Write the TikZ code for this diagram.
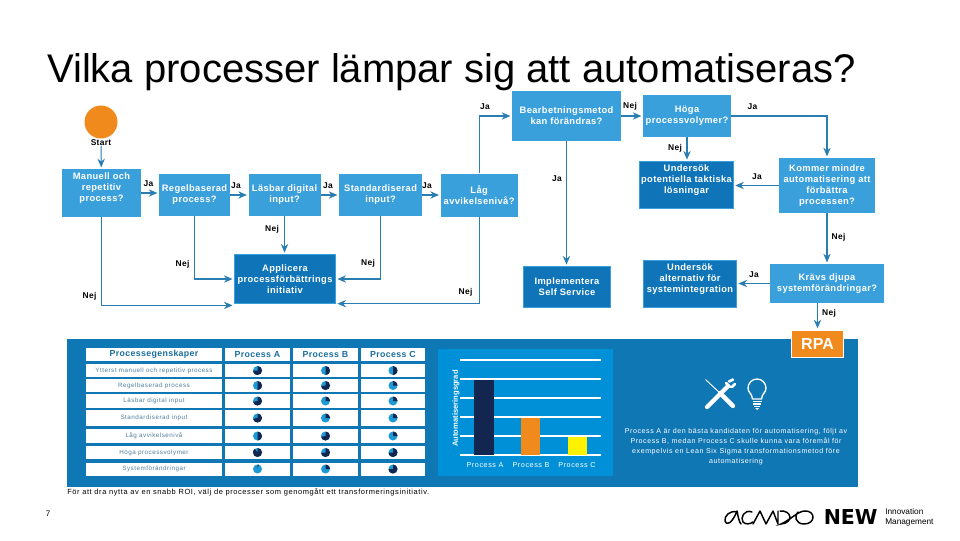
\documentclass[tikz,border=0pt]{standalone}
\usepackage{fontspec}
\usepackage{xcolor}
\usepackage{tikz}
\usetikzlibrary{arrows.meta,positioning}
\setmainfont{Liberation Sans}
\newfontfamily\widefont[LetterSpace=4]{Liberation Sans}
\newfontfamily\smallfont[LetterSpace=8]{Liberation Sans}
\newfontfamily\logofont{DejaVu Sans}
\definecolor{boxlight}{HTML}{3AA0DC}
\definecolor{boxdark}{HTML}{0F75B8}
\definecolor{bandblue}{HTML}{1077B5}
\definecolor{panelblue}{HTML}{0090D8}
\definecolor{linkblue}{HTML}{2A7DB0}
\definecolor{ballblue}{HTML}{1C9AD6}
\definecolor{ballnavy}{HTML}{12264F}
\definecolor{rpaorange}{HTML}{F08A1D}
\definecolor{headblue}{HTML}{1B6E9F}
\definecolor{rowgrey}{HTML}{4F7F9F}
\newcommand{\harvey}[3]{%
  \fill[ballblue] (#1,#2) circle (4.5);
  \fill[ballnavy] (#1,#2) -- ++(-90:4.5) arc[start angle=-90, delta angle=#3*3.6, radius=4.5] -- cycle;
}

\begin{document}
\begin{tikzpicture}[
  x=0.75pt, y=-0.75pt,
  question/.style={fill=boxlight, inner sep=0pt, align=center, text=white, font=\widefont\bfseries\fontsize{7}{8.3}\selectfont},
  action/.style={question, fill=boxdark, draw=boxlight, line width=0.6pt},
  arr/.style={-{Stealth[length=6.5pt, width=5.5pt]}, line width=0.8pt, linkblue, shorten >=1pt},
  lbl/.style={font=\widefont\bfseries\fontsize{6.3}{7}\selectfont, inner sep=0pt},
  cell/.style={fill=white, inner sep=0pt, align=center, text=rowgrey, font=\smallfont\fontsize{4.7}{5.5}\selectfont},
  headcell/.style={cell, text=headblue, font=\widefont\bfseries\fontsize{6.6}{7}\selectfont},
  barlabel/.style={inner sep=0pt, text=white, font=\smallfont\fontsize{5.4}{6}\selectfont},
]
  \useasboundingbox (0,0) rectangle (960,540);
  \fill[white] (0,0) rectangle (960,540);

  \node[inner sep=0pt, font=\fontsize{30}{34}\selectfont] (title) at (451.5,72) {Vilka processer lämpar sig att automatiseras?};

  % flow, left part
  \node[circle, fill=rpaorange, minimum size=24.75pt, inner sep=0pt] (start) at (101,122) {};
  \node[lbl, below=0.5pt of start] (startlbl) {Start};
  \node[question, minimum width=59.25pt, minimum height=36pt] (man) at (101.5,193) {Manuell och\\repetitiv\\process?\\~};
  \node[question, minimum width=53.25pt, minimum height=31.5pt] (regel) at (194.5,195) {Regelbaserad\\process?};
  \node[question, minimum width=54pt, minimum height=31.5pt, right=13.5pt of regel] (las) {Läsbar digital\\input?};
  \node[question, minimum width=62.25pt, minimum height=31.5pt, right=13.5pt of las] (std) {Standardiserad\\input?};
  \node[question, minimum width=57.75pt, minimum height=32.25pt, right=13.5pt of std] (lag) {Låg\\avvikelsenivå?};
  \node[action, minimum width=76pt, minimum height=37pt] (appl) at (285,279) {Applicera\\processförbättrings\\initiativ};

  % flow, right part
  \node[question, minimum width=81.75pt, minimum height=37.5pt] (bearb) at (566.5,116) {Bearbetningsmetod\\kan förändras?};
  \node[question, minimum width=66pt, minimum height=31.5pt] (hoga) at (687,116) {Höga\\processvolymer?};
  \node[action, minimum width=70.5pt, minimum height=35.5pt] (pot) at (686.5,185) {Undersök\\potentiella taktiska\\lösningar\\~};
  \node[question, minimum width=72pt, minimum height=41.25pt] (kommer) at (827,185.5) {Kommer mindre\\automatisering att\\förbättra\\processen?};
  \node[action, minimum width=65.5pt, minimum height=31pt] (impl) at (567,287) {Implementera\\Self Service};
  \node[action, minimum width=70pt, minimum height=35.5pt] (alt) at (690,284) {Undersök\\alternativ för\\systemintegration\\~};
  \node[question, minimum width=85.5pt, minimum height=29.25pt] (krav) at (827,283.5) {Krävs djupa\\systemförändringar?};

  % band with table, chart and text
  \node[fill=bandblue, minimum width=593.25pt, minimum height=111pt, inner sep=0pt] (band) at (462.5,413) {};
  \node[fill=rpaorange, draw=white, line width=1pt, minimum width=39pt, minimum height=20.5pt, inner sep=0pt, text=white, font=\bfseries\fontsize{12}{13}\selectfont] (rpa) at (817.5,344) {RPA};

  \node[headcell, minimum width=102pt, minimum height=9.75pt] (hprop) at (154,354.5) {Processegenskaper};
  \node[headcell, minimum width=48.75pt, minimum height=9.75pt] (ha) at (257.5,354.5) {Process A};
  \node[headcell, minimum width=48.75pt, minimum height=9.75pt] (hb) at (325.5,354.5) {Process B};
  \node[headcell, minimum width=48pt, minimum height=9.75pt] (hc) at (393,354.5) {Process C};
  \foreach \rowid/\rowy/\rowh/\rowtxt/\va/\vb/\vc in {
    1/370.5/9.75/Ytterst manuell och repetitiv process/75/50/50,
    2/385.5/9.75/Regelbaserad process/50/72/25,
    3/401/10.5/Läsbar digital input/72/25/25,
    4/418/12/Standardiserad input/72/25/25,
    5/436/10.5/Låg avvikelsenivå/50/72/25,
    6/452.5/9.75/Höga processvolymer/90/72/75,
    7/469/9.75/Systemförändringar/5/25/75} {
    \node[cell, minimum width=102pt, minimum height=\rowh pt] (prop\rowid) at (154,\rowy) {\rowtxt};
    \node[cell, minimum width=48.75pt, minimum height=\rowh pt] (a\rowid) at (257.5,\rowy) {};
    \node[cell, minimum width=48.75pt, minimum height=\rowh pt] (b\rowid) at (325.5,\rowy) {};
    \node[cell, minimum width=48pt, minimum height=\rowh pt] (c\rowid) at (393,\rowy) {};
    \harvey{257.5}{\rowy}{\va}
    \harvey{325.5}{\rowy}{\vb}
    \harvey{393}{\rowy}{\vc}
  }

  \node[fill=panelblue, minimum width=131.25pt, minimum height=95.25pt, inner sep=0pt] (panel) at (525.5,412.5) {};
  \foreach \liney in {360,379,398,417,436,455}
    \draw[white, line width=0.8pt] (460,\liney) -- (601,\liney);
  \node[fill=ballnavy, minimum width=15pt, minimum height=56.25pt, inner sep=0pt, anchor=south] (bara) at (484,455) {};
  \node[fill=rpaorange, minimum width=14.25pt, minimum height=27.75pt, inner sep=0pt, anchor=south] (barb) at (530.5,455) {};
  \node[fill=yellow, minimum width=14.25pt, minimum height=13.5pt, inner sep=0pt, anchor=south] (barc) at (577.5,455) {};
  \node[rotate=90, inner sep=0pt, text=white, font=\bfseries\fontsize{5.7}{6}\selectfont] (ylbl) at (456,408.5) {Automatiseringsgrad};
  \node[barlabel] (la) at (485,465) {Process A};
  \node[barlabel] (lb) at (531,465) {Process B};
  \node[barlabel] (lc) at (577,465) {Process C};

  % tools and bulb
  \draw[white, line width=0.7pt] (705.5,379.5) -- (721,394);
  \draw[white, line width=3.2pt, line cap=round] (720,393) -- (733,406);
  \draw[white, line width=3.2pt, line cap=round] (707,407) -- (728,386);
  \draw[white, line width=2pt, line cap=round] (726,383) -- (730,387) (729,381.5) -- (733,379.5) (732,387) -- (735,384);
  \draw[white, line width=1pt] (752.5,399) .. controls (752,393) and (748,393) .. (748,388) arc[start angle=180, delta angle=180, radius=9] .. controls (766,393) and (762,393) .. (761.5,399) -- cycle;
  \draw[white, line width=1pt] (752.5,401.5) -- (761.5,401.5) (753,404) -- (761,404) (754,406.5) -- (760,406.5);
  \fill[white] (755,408) -- (759,408) -- (757,410) -- cycle;

  \node[inner sep=0pt, align=center, text=white, font=\smallfont\fontsize{5.3}{7.5}\selectfont] (advice) at (736,446.5) {Process A är den bästa kandidaten för automatisering, följt av\\Process B, medan Process C skulle kunna vara föremål för\\exempelvis en Lean Six Sigma transformationsmetod före\\automatisering};
  \node[inner sep=0pt, anchor=west, font=\smallfont\fontsize{5.6}{6}\selectfont] (note) at (67,492) {För att dra nytta av en snabb ROI, välj de processer som genomgått ett transformeringsinitiativ.};
  \node[inner sep=0pt, font=\fontsize{6}{7}\selectfont] (page) at (48,514) {7};

  % logo
  \draw[black, line width=1.1pt, line cap=round, line join=round] (737,512) .. controls (730,510) and (724,516) .. (725,521) .. controls (726,526) and (732,524) .. (737,511) .. controls (738,516) and (739,522) .. (741,524);
  \draw[black, line width=1.1pt, line cap=round] (752,512) .. controls (744,509) and (740,518) .. (743,522) .. controls (746,525) and (750,524) .. (753,522);
  \draw[black, line width=1.1pt, line cap=round, line join=round] (753,524) -- (760,511) -- (766,524) -- (773,511) -- (778,524) -- (778,511);
  \draw[black, line width=1.1pt, line cap=round] (780,511) .. controls (792,510) and (794,523) .. (781,524) .. controls (790,520) and (797,512) .. (804,511) .. controls (816,510) and (816,524) .. (804,524) .. controls (795,524) and (794,515) .. (798,512);
  \node[inner sep=0pt, anchor=west, font=\logofont\bfseries\fontsize{15.4}{17}\selectfont] (new) at (823.5,517.5) {NEW};
  \node[inner sep=0pt, anchor=west, align=left, font=\fontsize{6.2}{8}\selectfont] (innov) at (885,517.5) {Innovation\\Management};

  % connectors
  \draw[arr] (startlbl) -- (man);
  \draw[arr] (man.east) -- (man.east -| regel.west);
  \draw[arr] (regel) -- (las);
  \draw[arr] (las) -- (std);
  \draw[arr] (std) -- (lag);
  \draw[arr] (man.south) |- ([yshift=-1pt]appl.south west);
  \draw[arr] (regel.south) |- (appl.west);
  \draw[arr] (las.south) -- (las.south |- appl.north);
  \draw[arr] (std.south) |- (appl.east);
  \draw[arr] (lag.south) |- ([yshift=0.3pt]appl.south east);
  \draw[arr] (lag.north) |- (bearb.west);
  \draw[arr] (bearb) -- (hoga);
  \draw[arr] (bearb.south) -- (bearb.south |- impl.north);
  \draw[arr] (hoga.south) -- (hoga.south |- pot.north);
  \draw[arr] (hoga.east) -| (kommer.north);
  \draw[arr] (kommer.west) -- (kommer.west -| pot.east);
  \draw[arr] (kommer) -- (krav);
  \draw[arr] (krav.west) -- (krav.west -| alt.east);
  \draw[arr] (rpa.north |- krav.south) -- (rpa.north);

  % connector labels
  \node[lbl] (ja1) at (148.5,184) {Ja};
  \node[lbl] (ja2) at (236,186) {Ja};
  \node[lbl] (ja3) at (328,186) {Ja};
  \node[lbl] (ja4) at (427,186) {Ja};
  \node[lbl] (ja5) at (485,106.5) {Ja};
  \node[lbl] (ja6) at (557,179) {Ja};
  \node[lbl] (ja7) at (752.5,106.5) {Ja};
  \node[lbl] (ja8) at (757,177) {Ja};
  \node[lbl] (ja9) at (754,275) {Ja};
  \node[lbl] (nej1) at (89.5,296) {Nej};
  \node[lbl] (nej2) at (182.5,264) {Nej};
  \node[lbl] (nej3) at (272,229) {Nej};
  \node[lbl] (nej4) at (368,263) {Nej};
  \node[lbl] (nej5) at (465.5,292) {Nej};
  \node[lbl] (nej6) at (630,106.5) {Nej};
  \node[lbl] (nej7) at (675,148) {Nej};
  \node[lbl] (nej8) at (838.5,237) {Nej};
  \node[lbl] (nej9) at (829,313) {Nej};
\end{tikzpicture}
\end{document}
